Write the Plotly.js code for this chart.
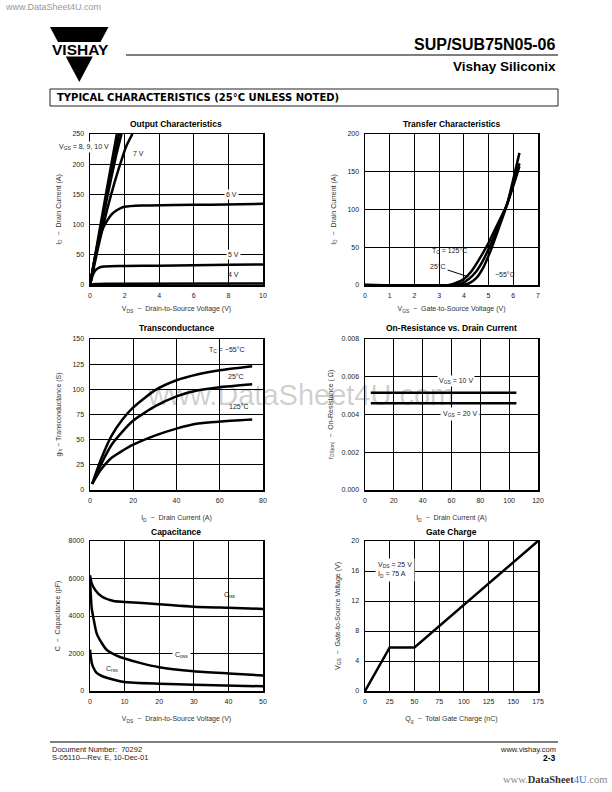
<!DOCTYPE html>
<html><head><meta charset="utf-8">
<script src="https://cdn.plot.ly/plotly-3.0.1.min.js"></script>
<style>html,body{margin:0;padding:0;background:#fff}</style>
</head><body><div id="chart" style="width:612px;height:792px"></div>
<script>
// ---------- Output Characteristics (VDS vs ID, per VGS) ----------
const outVds10 = [0, 0.5, 1.0, 1.55];            const outId10 = [0, 82, 163, 250];
const outVds9  = [0, 0.5, 1.0, 1.68];            const outId9  = [0, 78, 153, 250];
const outVds8  = [0, 0.5, 1.0, 1.5, 1.82];       const outId8  = [0, 74, 146, 213, 250];
const outVds7  = [0, 0.5, 1.0, 1.4, 1.8, 2.1, 2.45]; const outId7 = [0, 66, 126, 168, 205, 230, 250];
const outVds6  = [0, 0.25, 0.5, 0.75, 1.0, 1.25, 1.5, 1.75, 2, 3, 5, 7, 10];
const outId6   = [0, 40, 73, 94, 107, 117, 123, 127, 129.5, 131.5, 132.5, 133, 134.5];
const outVds5  = [0, 0.1, 0.2, 0.35, 0.5, 0.8, 1.2, 2, 4, 6, 8, 10];
const outId5   = [0, 11, 19, 25.5, 28.5, 30.5, 31, 31.5, 32, 32.5, 33.5, 34];
const outVds4  = [0, 0.3, 1, 10];                const outId4  = [0, 1.5, 2, 2.5];

// ---------- Transfer Characteristics ----------
const trVgs125 = [0, 3.4, 3.7, 4.0, 4.3, 4.6, 5.0, 5.4, 5.75, 6.25];
const trId125  = [0, 0, 3, 8, 18, 33, 56, 83, 107, 157];
const trVgs25  = [0, 3.6, 3.9, 4.2, 4.5, 4.8, 5.1, 5.4, 5.75, 6.25];
const trId25   = [0, 0, 2, 8, 18, 34, 55, 78, 107, 161];
const trVgsM55 = [0, 3.9, 4.2, 4.5, 4.8, 5.1, 5.4, 5.75, 6.25];
const trIdM55  = [0, 0, 2, 9, 24, 47, 74, 107, 175];

// ---------- Transconductance ----------
const gfsId   = [1, 5, 10, 15, 20, 30, 40, 50, 60, 75];
const gfsM55  = [6, 30, 54, 70, 82, 99, 109, 115, 119, 123];
const gfs25   = [6, 25, 45, 58, 69, 83, 93, 99, 102, 105];
const gfs125  = [6, 20, 32, 39, 45, 54, 61, 66, 68, 70];

// ---------- On-Resistance vs Drain Current ----------
const rdsId   = [4, 105];
const rds10V  = [0.00515, 0.00515];
const rds20V  = [0.0046, 0.0046];

// ---------- Capacitance ----------
const capVissX = [0, 0.5, 1.5, 3.4, 6.8, 10, 20, 30, 40, 50];
const capCiss  = [6180, 5740, 5390, 5040, 4800, 4750, 4630, 4500, 4440, 4380];
const capVossX = [0, 0.5, 1, 1.9, 3.4, 4.8, 7.7, 10, 14.4, 20, 30, 40, 50];
const capCoss  = [6000, 4400, 3890, 3090, 2560, 2200, 1890, 1730, 1500, 1270, 1060, 940, 830];
const capVrssX = [0, 0.5, 1, 1.9, 3.4, 4.8, 10, 20, 30, 50];
const capCrss  = [2200, 1500, 1240, 970, 800, 710, 480, 390, 340, 250];

// ---------- Gate Charge ----------
const qgX = [0, 25, 50, 175];
const qgV = [0, 5.8, 5.8, 20];

// ---------- layout helpers ----------
const W = 612, H = 792;
const fx = p => p / W, fy = p => 1 - p / H;
const col1 = [fx(90), fx(263)], col2 = [fx(365), fx(538)];
const row1 = [fy(285), fy(134)], row2 = [fy(490), fy(339)], row3 = [fy(691), fy(541)];
const FONT = 'Liberation Sans, Arial, sans-serif';
const NARROW = 'Liberation Sans Narrow, Arial Narrow, Liberation Sans, Arial, sans-serif';

function mkAxis(domain, range, dtick, title, anchor, standoff, extra) {
  return Object.assign({
    domain: domain, range: range, dtick: dtick, tick0: 0, anchor: anchor,
    showgrid: true, gridcolor: '#000', gridwidth: 1,
    showline: true, linecolor: '#000', linewidth: 1.5, mirror: true,
    zeroline: false, ticks: '', ticklabelstandoff: 3,
    tickfont: {family: FONT, size: 7, color: '#222'},
    title: {text: title, font: {family: FONT, size: 7, color: '#333'}, standoff: standoff},
    fixedrange: true
  }, extra || {});
}

const L = {color: '#000', width: 2.5, shape: 'spline', smoothing: 0.6};
function tr(x, y, xa, ya, line) {
  return {x: x, y: y, xaxis: xa, yaxis: ya, type: 'scatter', mode: 'lines',
          line: Object.assign({}, L, line || {}), hoverinfo: 'skip'};
}

const data = [
  tr(outVds10, outId10, 'x', 'y'), tr(outVds9, outId9, 'x', 'y'), tr(outVds8, outId8, 'x', 'y'),
  tr(outVds7, outId7, 'x', 'y'), tr(outVds6, outId6, 'x', 'y'), tr(outVds5, outId5, 'x', 'y'),
  tr(outVds4, outId4, 'x', 'y'),
  tr(trVgs125, trId125, 'x2', 'y2'), tr(trVgs25, trId25, 'x2', 'y2'), tr(trVgsM55, trIdM55, 'x2', 'y2'),
  tr(gfsId, gfsM55, 'x3', 'y3'), tr(gfsId, gfs25, 'x3', 'y3'), tr(gfsId, gfs125, 'x3', 'y3'),
  tr(rdsId, rds10V, 'x4', 'y4', {shape: 'linear'}), tr(rdsId, rds20V, 'x4', 'y4', {shape: 'linear'}),
  tr(capVissX, capCiss, 'x5', 'y5'), tr(capVossX, capCoss, 'x5', 'y5'), tr(capVrssX, capCrss, 'x5', 'y5'),
  tr(qgX, qgV, 'x6', 'y6', {shape: 'linear'})
];

function lbl(text, x, y, xr, yr, extra) {
  return Object.assign({text: text, x: x, y: y, xref: xr, yref: yr, showarrow: false,
    xanchor: 'center', yanchor: 'middle',
    font: {family: FONT, size: 7, color: '#222'}}, extra || {});
}
function ptxt(text, x, y, extra) {
  return Object.assign({text: text, x: fx(x), y: fy(y), xref: 'paper', yref: 'paper', showarrow: false,
    xanchor: 'center', yanchor: 'middle',
    font: {family: FONT, size: 7, color: '#222'}}, extra || {});
}
const WB = {bgcolor: '#fff', borderpad: 1};
const TF = {family: NARROW, size: 8.5, color: '#000'};

const annotations = [
  // chart titles
  ptxt('<b>Output Characteristics</b>', 176.5, 124, {font: TF}),
  ptxt('<b>Transfer Characteristics</b>', 451.5, 124, {font: TF}),
  ptxt('<b>Transconductance</b>', 176.5, 328, {font: TF}),
  ptxt('<b>On-Resistance vs. Drain Current</b>', 451.5, 328, {font: TF}),
  ptxt('<b>Capacitance</b>', 176.5, 532, {font: TF}),
  ptxt('<b>Gate Charge</b>', 451.5, 532, {font: TF}),
  // output labels
  ptxt('V<sub>GS</sub> = 8, 9, 10 V', 57, 147, Object.assign({xanchor: 'left'}, WB)),
  lbl('7 V', 2.83, 217, 'x', 'y'),
  lbl('6 V', 8.2, 150, 'x', 'y', WB),
  lbl('5 V', 8.3, 50, 'x', 'y', WB),
  lbl('4 V', 8.3, 18, 'x', 'y'),
  // transfer labels
  lbl('T<sub>C</sub> = 125°C', 3.4, 45, 'x2', 'y2'),
  {text: '25°C', x: 4.17, y: 11, xref: 'x2', yref: 'y2', ax: 2.96, ay: 24, axref: 'x2', ayref: 'y2',
   showarrow: true, arrowhead: 0, arrowwidth: 1, arrowcolor: '#000', standoff: 0,
   font: {family: FONT, size: 7, color: '#222'}},
  lbl('−55°C', 5.67, 14.5, 'x2', 'y2'),
  // transconductance labels
  lbl('T<sub>C</sub> = −55°C', 63.2, 139, 'x3', 'y3'),
  lbl('25°C', 67.3, 112.5, 'x3', 'y3'),
  lbl('125°C', 69, 82.5, 'x3', 'y3'),
  // on-resistance labels
  lbl('V<sub>GS</sub> = 10 V', 63.4, 0.00578, 'x4', 'y4', WB),
  lbl('V<sub>GS</sub> = 20 V', 66, 0.0040, 'x4', 'y4', Object.assign({}, WB, {borderpad: 2})),
  // capacitance labels
  lbl('C<sub>iss</sub>', 40.5, 5120, 'x5', 'y5'),
  lbl('C<sub>oss</sub>', 26.3, 1900, 'x5', 'y5', Object.assign({}, WB, {borderpad: 2})),
  lbl('C<sub>rss</sub>', 6.4, 1170, 'x5', 'y5'),
  // gate charge label
  lbl('V<sub>DS</sub> = 25 V<br>I<sub>D</sub> = 75 A', 10, 16.1, 'x6', 'y6',
      Object.assign({xanchor: 'left', align: 'left'}, WB, {borderpad: 2})),
  // page header / footer text
  ptxt('www.DataSheet4U.com', 3, 7, {xanchor: 'left', font: {family: FONT, size: 9, color: '#999'}}),
  ptxt('<b>SUP/SUB75N05-06</b>', 558, 44, {xanchor: 'right', font: {family: FONT, size: 16, color: '#000'}}),
  ptxt('<b>Vishay Siliconix</b>', 558, 66, {xanchor: 'right', font: {family: FONT, size: 13.5, color: '#000'}}),
  ptxt('<b>VISHAY</b>', 80, 49.5, {font: {family: FONT, size: 15.5, color: '#000'}}),
  ptxt('<b>TYPICAL CHARACTERISTICS (25°C UNLESS NOTED)</b>', 55, 98, {xanchor: 'left', font: {family: 'DejaVu Sans, Liberation Sans, sans-serif', size: 10, color: '#000'}}),
  ptxt('Document Number:  70292', 50, 749, {xanchor: 'left', font: {family: FONT, size: 7.5, color: '#222'}}),
  ptxt('S-05110—Rev. E, 10-Dec-01', 50, 757, {xanchor: 'left', font: {family: FONT, size: 7.5, color: '#222'}}),
  ptxt('www.vishay.com', 558, 749, {xanchor: 'right', font: {family: FONT, size: 7.5, color: '#222'}}),
  ptxt('<b>2-3</b>', 558, 757.5, {xanchor: 'right', font: {family: FONT, size: 8.5, color: '#000'}}),
  ptxt('<span style="color:#888">www.</span><b>DataSheet</b><span style="color:#3a6fd8">4U</span><span style="color:#888">.com</span>',
       609, 779, {xanchor: 'right', font: {family: 'Liberation Serif, DejaVu Serif, serif', size: 10.5, color: '#333'}}),
  // watermark
  ptxt('www.DataSheet4U.com', 300, 395, {font: {family: FONT, size: 29, color: 'rgba(0,0,0,0.2)'}})
];

function P(x, y) { return fx(x).toFixed(5) + ',' + fy(y).toFixed(5); }
const shapes = [
  // logo: upper trapezoid and lower triangle
  {type: 'path', xref: 'paper', yref: 'paper', path: 'M' + P(50, 27) + 'L' + P(108.5, 27) + 'L' + P(100.5, 42) + 'L' + P(58, 42) + 'Z',
   fillcolor: '#000', line: {width: 0}},
  {type: 'path', xref: 'paper', yref: 'paper', path: 'M' + P(65.7, 56.5) + 'L' + P(92.8, 56.5) + 'L' + P(79.3, 82) + 'Z',
   fillcolor: '#000', line: {width: 0}},
  // header rule
  {type: 'line', xref: 'paper', yref: 'paper', x0: fx(126), x1: fx(558), y0: fy(55), y1: fy(55), line: {color: '#000', width: 1.2}},
  // section box
  {type: 'rect', xref: 'paper', yref: 'paper', x0: fx(50), x1: fx(558), y0: fy(106), y1: fy(89), line: {color: '#222', width: 1}},
  // footer rule
  {type: 'line', xref: 'paper', yref: 'paper', x0: fx(50), x1: fx(558), y0: fy(742), y1: fy(742), line: {color: '#000', width: 1}}
];

const layout = {
  width: W, height: H, margin: {l: 0, r: 0, t: 0, b: 0},
  paper_bgcolor: '#fff', plot_bgcolor: '#fff', showlegend: false,
  font: {family: FONT, size: 7, color: '#222'},
  xaxis:  mkAxis(col1, [0, 10], 2, 'V<sub>DS</sub>  −  Drain-to-Source Voltage (V)', 'y', 8),
  yaxis:  mkAxis(row1, [0, 250], 50, 'I<sub>D</sub>  −  Drain Current (A)', 'x', 10),
  xaxis2: mkAxis(col2, [0, 7], 1, 'V<sub>GS</sub>  −  Gate-to-Source Voltage (V)', 'y2', 8),
  yaxis2: mkAxis(row1, [0, 200], 50, 'I<sub>D</sub>  −  Drain Current (A)', 'x2', 10),
  xaxis3: mkAxis(col1, [0, 80], 20, 'I<sub>D</sub>  −  Drain Current (A)', 'y3', 12),
  yaxis3: mkAxis(row2, [0, 150], 25, 'g<sub>fs</sub> − Transconductance (S)', 'x3', 10),
  xaxis4: mkAxis(col2, [0, 120], 20, 'I<sub>D</sub>  −  Drain Current (A)', 'y4', 12),
  yaxis4: mkAxis(row2, [0, 0.008], 0.002, 'r<sub>DS(on)</sub>  −  On-Resistance ( Ω)', 'x4', 7, {tickformat: '.3f'}),
  xaxis5: mkAxis(col1, [0, 50], 10, 'V<sub>DS</sub>  −  Drain-to-Source Voltage (V)', 'y5', 12),
  yaxis5: mkAxis(row3, [0, 8000], 2000, 'C  −  Capacitance (pF)', 'x5', 7),
  xaxis6: mkAxis(col2, [0, 175], 25, 'Q<sub>g</sub>  −  Total Gate Charge (nC)', 'y6', 12),
  yaxis6: mkAxis(row3, [0, 20], 4, 'V<sub>GS</sub>  −  Gate-to-Source Voltage (V)', 'x6', 10),
  annotations: annotations,
  shapes: shapes
};

Plotly.newPlot('chart', data, layout, {staticPlot: true, displayModeBar: false});
</script></body></html>
